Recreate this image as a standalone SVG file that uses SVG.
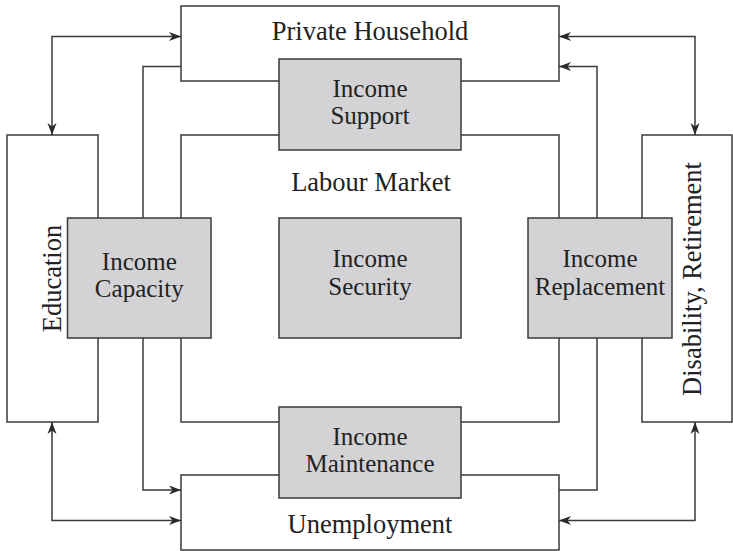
<svg xmlns="http://www.w3.org/2000/svg" width="733" height="551" viewBox="0 0 733 551">
  <style>
    .box { fill: #ffffff; stroke: #3a3a3a; stroke-width: 1.5; }
    .core { fill: #d3d3d5; stroke: #3a3a3a; stroke-width: 1.5; }
    .lbl { font-family: "Liberation Serif", "Times New Roman", serif; font-size: 26.5px; fill: #222222; text-anchor: middle; }
    .lbl2 { font-family: "Liberation Serif", "Times New Roman", serif; font-size: 25px; fill: #222222; text-anchor: middle; }
    .link { fill: none; stroke: #3a3a3a; stroke-width: 1.5; }
  </style>
  <defs>
    <marker id="arrow" viewBox="-13 -6 14 12" markerUnits="userSpaceOnUse" markerWidth="14" markerHeight="12" refX="0" refY="0" orient="auto-start-reverse">
      <path d="M0,0 L-12,-4.5 L-8.5,0 L-12,4.5 Z" fill="#2a2a2a"/>
    </marker>
  </defs>

  <!-- outer domains -->
  <g id="private-household">
    <rect class="box" x="181" y="6" width="378" height="75"/>
    <text class="lbl" x="370" y="40">Private Household</text>
  </g>
  <g id="labour-market">
    <rect class="box" x="181" y="135" width="378" height="287"/>
    <text class="lbl" x="371" y="191">Labour Market</text>
  </g>
  <g id="unemployment">
    <rect class="box" x="181" y="475" width="378" height="75"/>
    <text class="lbl" x="370" y="533">Unemployment</text>
  </g>
  <g id="education">
    <rect class="box" x="7" y="135" width="91" height="287"/>
    <text class="lbl" transform="translate(61 278.5) rotate(-90)">Education</text>
  </g>
  <g id="disability-retirement">
    <rect class="box" x="642" y="135" width="90" height="287"/>
    <text class="lbl" transform="translate(701 279) rotate(-90)">Disability, Retirement</text>
  </g>

  <!-- connectors -->
  <g id="connectors">
    <path class="link" d="M52,135 L52,36.5 L181,36.5" marker-start="url(#arrow)" marker-end="url(#arrow)"/>
    <path class="link" d="M181,66.5 L143,66.5 L143,218"/>
    <path class="link" d="M143,338 L143,490 L181,490" marker-end="url(#arrow)"/>
    <path class="link" d="M52,422 L52,520.5 L181,520.5" marker-start="url(#arrow)" marker-end="url(#arrow)"/>
    <path class="link" d="M559,36.5 L695,36.5 L695,135" marker-start="url(#arrow)" marker-end="url(#arrow)"/>
    <path class="link" d="M597,218 L597,66.5 L559,66.5" marker-end="url(#arrow)"/>
    <path class="link" d="M597,338 L597,490 L559,490"/>
    <path class="link" d="M695,422 L695,520.5 L559,520.5" marker-start="url(#arrow)" marker-end="url(#arrow)"/>
  </g>

  <!-- income functions -->
  <g id="income-support">
    <rect class="core" x="279" y="59" width="182" height="91"/>
    <text class="lbl2" x="370" y="96.5">Income</text>
    <text class="lbl2" x="370" y="124.2">Support</text>
  </g>
  <g id="income-capacity">
    <rect class="core" x="67.5" y="218" width="143.5" height="120"/>
    <text class="lbl2" x="139.3" y="269.5">Income</text>
    <text class="lbl2" x="139.3" y="297.2">Capacity</text>
  </g>
  <g id="income-security">
    <rect class="core" x="279" y="218" width="182" height="120"/>
    <text class="lbl2" x="370" y="267">Income</text>
    <text class="lbl2" x="370" y="294.7">Security</text>
  </g>
  <g id="income-replacement">
    <rect class="core" x="528" y="218" width="144" height="120"/>
    <text class="lbl2" x="600" y="267.2">Income</text>
    <text class="lbl2" x="600" y="294.9">Replacement</text>
  </g>
  <g id="income-maintenance">
    <rect class="core" x="279" y="407" width="182" height="91"/>
    <text class="lbl2" x="370" y="444.5">Income</text>
    <text class="lbl2" x="370" y="472.2">Maintenance</text>
  </g>
</svg>
